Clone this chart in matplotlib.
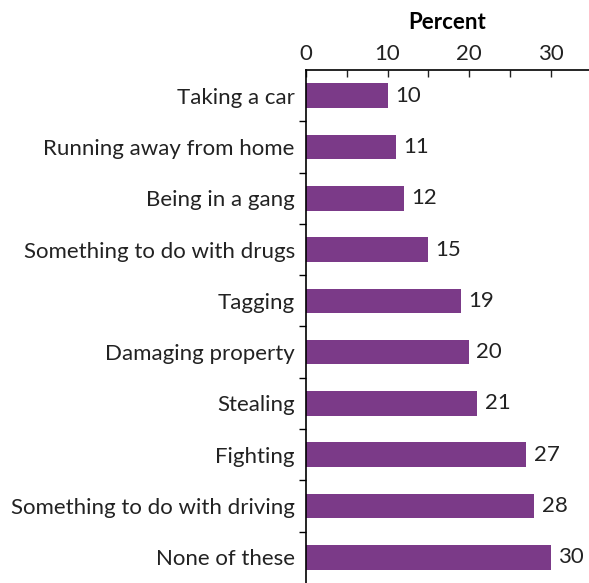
import matplotlib.pyplot as plt
from matplotlib.ticker import MultipleLocator

categories = ['Taking a car', 'Running away from home', 'Being in a gang',
              'Something to do with drugs', 'Tagging', 'Damaging property',
              'Stealing', 'Fighting', 'Something to do with driving',
              'None of these']
values = [10, 11, 12, 15, 19, 20, 21, 27, 28, 30]

plt.rcParams['font.family'] = ['Lato', 'DejaVu Sans']

fig = plt.figure(figsize=(5.89, 5.83), dpi=100)
ax = fig.add_axes([0.5195, 0.0, 0.4805, 0.88])

ypos = list(range(len(categories)))
ax.barh(ypos, values, height=0.48, color='#7B3A88')
for y, v in zip(ypos, values):
    ax.text(v + 0.9, y, str(v), va='center', ha='left', fontsize=16, color='#222222')

ax.set_xlim(0, 34.7)
ax.set_ylim(len(categories) - 0.5, -0.5)

ax.xaxis.tick_top()
ax.xaxis.set_label_position('top')
ax.set_xticks([0, 10, 20, 30])
ax.xaxis.set_minor_locator(MultipleLocator(5))
ax.tick_params(axis='x', which='both', direction='in', length=5, width=1,
               labelsize=16, pad=4, colors='#222222')
ax.set_xlabel('Percent', fontsize=16, fontweight='bold', labelpad=11)

ax.set_yticks(ypos)
ax.set_yticklabels(categories, fontsize=16)
ax.tick_params(axis='y', which='major', length=0, pad=8, colors='#222222')
ax.set_yticks([y + 0.5 for y in ypos[:-1]], minor=True)
ax.tick_params(axis='y', which='minor', direction='out', length=5, width=1)

for s in ['right', 'bottom']:
    ax.spines[s].set_visible(False)
ax.spines['left'].set_linewidth(1.2)
ax.spines['top'].set_linewidth(1.2)

fig.savefig('out.png', dpi=100)
